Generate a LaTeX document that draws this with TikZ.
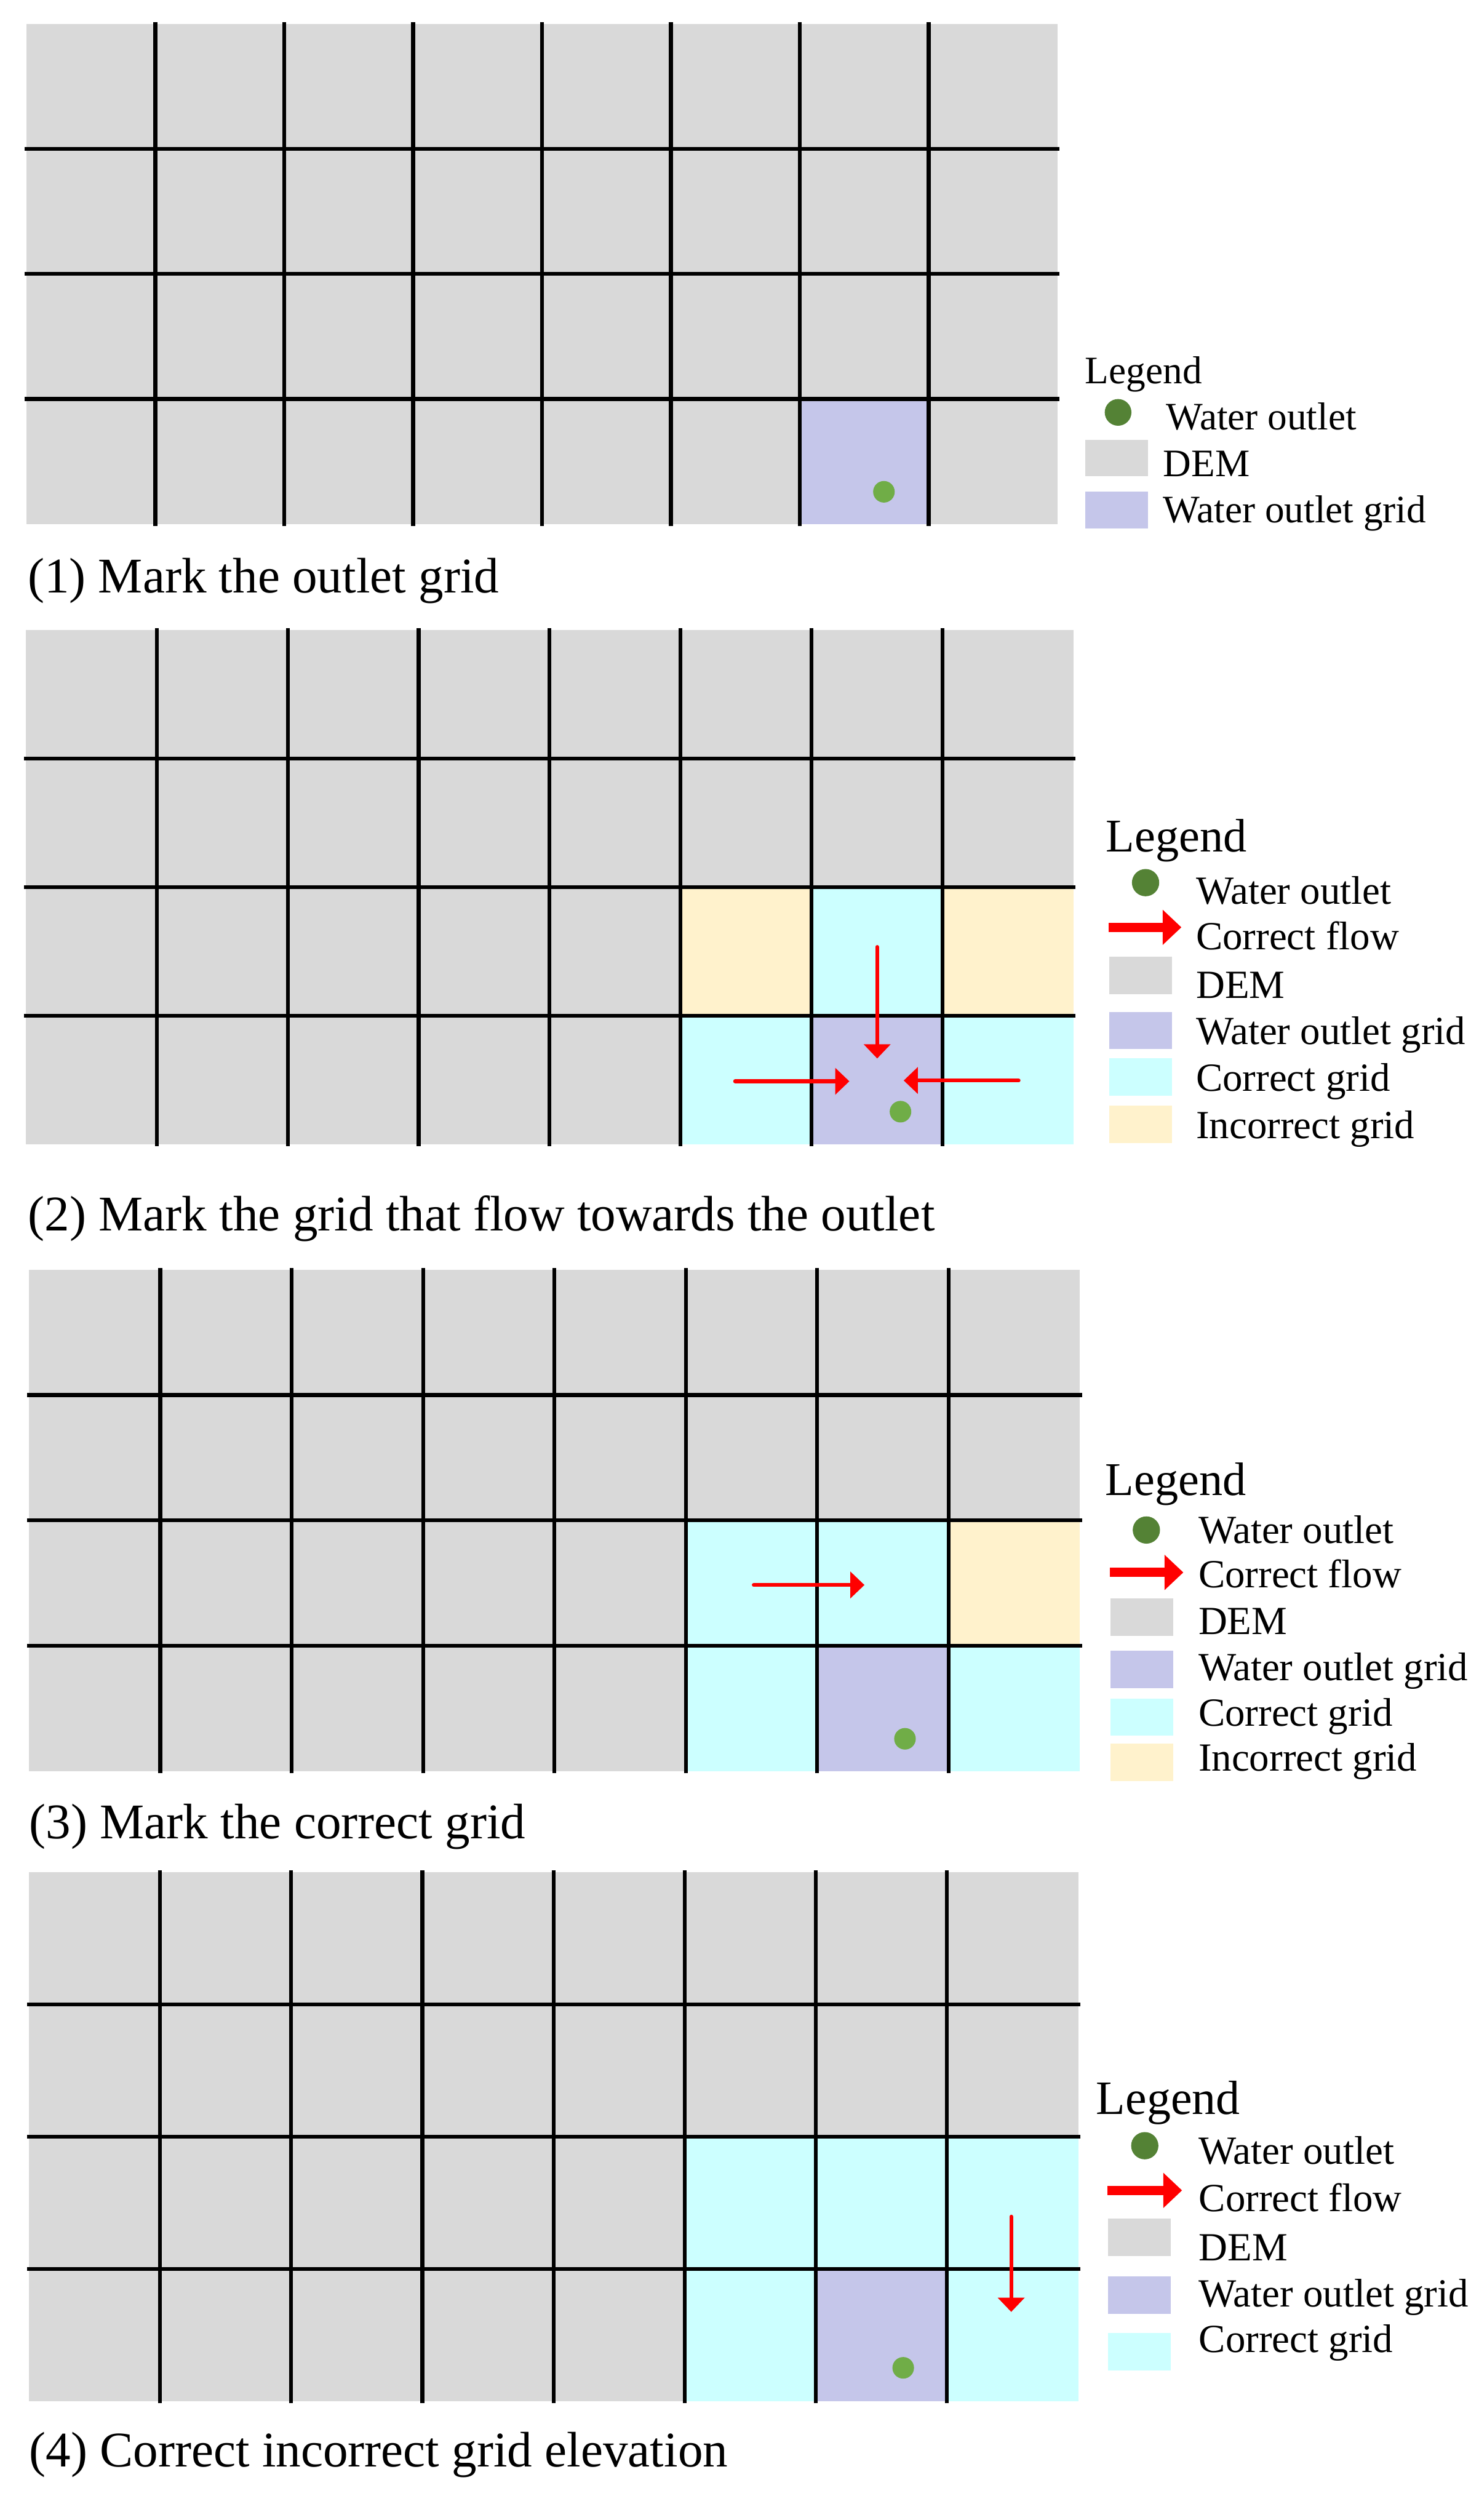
\documentclass[tikz,border=0pt]{standalone}
\usepackage{fontspec}
\setmainfont{Liberation Serif}
\usetikzlibrary{positioning, arrows.meta}
\definecolor{dem}{HTML}{D9D9D9}
\definecolor{outletgrid}{HTML}{C5C6EA}
\definecolor{correctgrid}{HTML}{CCFFFF}
\definecolor{wronggrid}{HTML}{FFF2CC}
\definecolor{keygreen}{HTML}{548235}
\definecolor{cellgreen}{HTML}{70AD47}
\definecolor{flow}{HTML}{FF0000}

\begin{document}
\begin{tikzpicture}[
    x=0.02829cm, y=-0.02829cm,
    gridline/.style={line width=1.9pt, black, line cap=rect},
    flowarrow/.style={-{Triangle[length=2.5mm, width=4.6mm]}, line width=1.9pt, flow, line cap=round},
    keyarrow/.style={-{Triangle[length=3.3mm, width=6mm]}, line width=4.7pt, flow},
    celldot/.style={circle, fill=cellgreen, inner sep=0pt, minimum size=3.8mm},
    keydot/.style={circle, fill=keygreen, inner sep=0pt, minimum size=4.8mm},
    swatch/.style={anchor=north west, inner sep=0pt, minimum width=11.1mm, minimum height=6.6mm},
    caption/.style={anchor=base west, inner sep=0pt, font=\fontsize{25}{30}\selectfont},
    keytitle/.style={anchor=base west, inner sep=0pt, font=\fontsize{23.5}{28}\selectfont},
    keytext/.style={anchor=base west, inner sep=0pt, font=\fontsize{20}{24}\selectfont},
]
\useasboundingbox (0,0) rectangle (920,1568);

% (1) outlet grid
\fill[dem] (16.5,15) rectangle (658,326);
\fill[outletgrid] (497.5,248.25) rectangle (577.7,326);
\foreach \i in {1,...,7}
    \draw[gridline] (16.5+\i*80.19,15) -- (16.5+\i*80.19,326);
\foreach \j in {1,2,3}
    \draw[gridline] (16.5,15+\j*77.75) -- (658,15+\j*77.75);
\node[celldot] (o1) at (550,306) {};
\node[caption] (cap1) at (17,368.7) {(1) Mark the outlet grid};

\node[keytitle, font=\fontsize{19.5}{23}\selectfont] (key1) at (675,238.6) {Legend};
\node[keydot, minimum size=4.7mm] (key1o) at (695.7,256.6) {};
\node[keytext, font=\fontsize{19.5}{23}\selectfont] (key1ot) at (725.3,267.5) {Water outlet};
\node[swatch, fill=dem, minimum height=6.4mm] (key1d) at (675,273.3) {};
\node[keytext, font=\fontsize{19.5}{23}\selectfont] (key1dt) at (723.6,296.3) {DEM};
\node[swatch, fill=outletgrid, minimum height=6.4mm] (key1g) at (675,305.8) {};
\node[keytext, font=\fontsize{19.5}{23}\selectfont] (key1gt) at (723.6,325.2) {Water outlet grid};

% (2) grids flowing to the outlet
\fill[dem] (16,392) rectangle (668,712);
\fill[wronggrid] (424,552) rectangle (505.5,632);
\fill[correctgrid] (505.5,552) rectangle (587,632);
\fill[wronggrid] (587,552) rectangle (668,632);
\fill[correctgrid] (424,632) rectangle (505.5,712);
\fill[outletgrid] (505.5,632) rectangle (587,712);
\fill[correctgrid] (587,632) rectangle (668,712);
\foreach \i in {1,...,7}
    \draw[gridline] (16+\i*81.5,392) -- (16+\i*81.5,712);
\foreach \j in {1,2,3}
    \draw[gridline] (16,392+\j*80) -- (668,392+\j*80);
\coordinate (a2n) at (545.8,589.2);
\coordinate (a2s) at (545.8,658.6);
\coordinate (a2w) at (457.4,672.8);
\coordinate (a2wt) at (528.5,672.8);
\coordinate (a2e) at (633.8,672.3);
\coordinate (a2et) at (562.3,672.3);
\draw[flowarrow] (a2n) -- (a2s);
\draw[flowarrow] (a2w) -- (a2wt);
\draw[flowarrow] (a2e) -- (a2et);
\node[celldot] (o2) at (560.3,691.7) {};
\node[caption] (cap2) at (17.3,766) {(2) Mark the grid that flow towards the outlet};

\node[keytitle] (key2) at (688,530) {Legend};
\node[keydot] (key2o) at (712.8,549.2) {};
\node[keytext] (key2ot) at (744,562.4) {Water outlet};
\coordinate (key2a) at (689.9,577);
\coordinate (key2at) at (735.1,577);
\draw[keyarrow] (key2a) -- (key2at);
\node[keytext] (key2ft) at (744,590.8) {Correct flow};
\node[swatch, fill=dem] (key2d) at (689.9,595.2) {};
\node[keytext] (key2dt) at (744,621.1) {DEM};
\node[swatch, fill=outletgrid] (key2g) at (689.9,629.3) {};
\node[keytext] (key2gt) at (744,650) {Water outlet grid};
\node[swatch, fill=correctgrid] (key2c) at (689.9,658.3) {};
\node[keytext] (key2ct) at (744,679) {Correct grid};
\node[swatch, fill=wronggrid] (key2w) at (689.9,687.5) {};
\node[keytext] (key2wt) at (744,708.2) {Incorrect grid};

% (3) correct grids
\fill[dem] (18,790) rectangle (672,1102);
\fill[correctgrid] (426.75,946) rectangle (672,1102);
\fill[wronggrid] (590.25,946) rectangle (672,1024);
\fill[outletgrid] (508.5,1024) rectangle (590.25,1102);
\foreach \i in {1,...,7}
    \draw[gridline] (18+\i*81.75,790) -- (18+\i*81.75,1102);
\foreach \j in {1,2,3}
    \draw[gridline] (18,790+\j*78) -- (672,790+\j*78);
\coordinate (a3w) at (469,986.2);
\coordinate (a3e) at (537.9,986.2);
\draw[flowarrow] (a3w) -- (a3e);
\node[celldot] (o3) at (563.1,1081.9) {};
\node[caption] (cap3) at (18,1144) {(3) Mark the correct grid};

\node[keytitle] (key3) at (687.5,930.3) {Legend};
\node[keydot] (key3o) at (713.3,952) {};
\node[keytext] (key3ot) at (745.5,960.4) {Water outlet};
\coordinate (key3a) at (690.7,978.4);
\coordinate (key3at) at (736.3,978.4);
\draw[keyarrow] (key3a) -- (key3at);
\node[keytext] (key3ft) at (745.5,988) {Correct flow};
\node[swatch, fill=dem] (key3d) at (690.7,994.3) {};
\node[keytext] (key3dt) at (745.5,1017) {DEM};
\node[swatch, fill=outletgrid] (key3g) at (690.7,1026.7) {};
\node[keytext] (key3gt) at (745.5,1045.6) {Water outlet grid};
\node[swatch, fill=correctgrid] (key3c) at (690.7,1056.5) {};
\node[keytext] (key3ct) at (745.5,1074) {Correct grid};
\node[swatch, fill=wronggrid] (key3w) at (690.7,1084.5) {};
\node[keytext] (key3wt) at (745.5,1102) {Incorrect grid};

% (4) corrected elevation
\fill[dem] (18,1165) rectangle (671,1494);
\fill[correctgrid] (425.25,1329.5) rectangle (671,1494);
\fill[outletgrid] (506.9,1411.75) rectangle (588.5,1494);
\foreach \i in {1,...,7}
    \draw[gridline] (18+\i*81.6,1165) -- (18+\i*81.6,1494);
\foreach \j in {1,2,3}
    \draw[gridline] (18,1165+\j*82.25) -- (671,1165+\j*82.25);
\coordinate (a4n) at (629.2,1379.2);
\coordinate (a4s) at (629.2,1438.5);
\draw[flowarrow] (a4n) -- (a4s);
\node[celldot] (o4) at (562,1473.3) {};
\node[caption] (cap4) at (18,1535) {(4) Correct incorrect grid elevation};

\node[keytitle, font=\fontsize{24}{29}\selectfont] (key4) at (681.9,1315.6) {Legend};
\node[keydot] (key4o) at (712.3,1335.1) {};
\node[keytext] (key4ot) at (745.8,1346.4) {Water outlet};
\coordinate (key4a) at (689,1362.9);
\coordinate (key4at) at (735.5,1362.9);
\draw[keyarrow] (key4a) -- (key4at);
\node[keytext] (key4ft) at (745.8,1376.1) {Correct flow};
\node[swatch, fill=dem] (key4d) at (689,1380) {};
\node[keytext] (key4dt) at (745.8,1406.5) {DEM};
\node[swatch, fill=outletgrid] (key4g) at (689,1416) {};
\node[keytext] (key4gt) at (745.8,1435.5) {Water outlet grid};
\node[swatch, fill=correctgrid] (key4c) at (689,1451.3) {};
\node[keytext] (key4ct) at (745.8,1463.8) {Correct grid};

\end{tikzpicture}
\end{document}
